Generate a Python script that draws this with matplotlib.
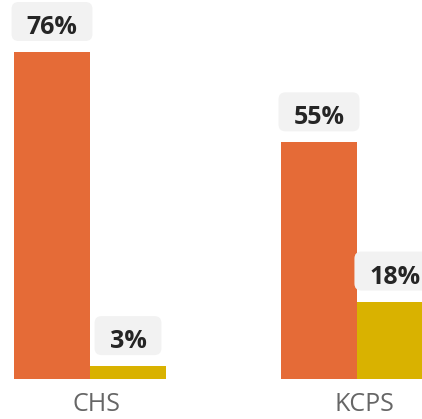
import matplotlib
matplotlib.use("Agg")
import matplotlib.pyplot as plt
import matplotlib.transforms as mtransforms
from matplotlib.patches import FancyBboxPatch
import numpy as np

# Data
categories = ["CHS", "KCPS"]
series_a = [76, 55]
series_b = [3, 18]

color_a = "#E56B37"
color_b = "#D9B200"

W, H, DPI = 422, 419, 72
fig = plt.figure(figsize=(W / DPI, H / DPI), dpi=DPI)
ax = fig.add_axes([0, 40 / H, 1, 379 / H])

x = np.arange(len(categories))
bw = 76 / 267

bars_a = ax.bar(x - bw / 2, series_a, width=bw, color=color_a)
bars_b = ax.bar(x + bw / 2, series_b, width=bw, color=color_b)

ax.set_xlim(-90 / 267, 332 / 267)
ax.set_ylim(0, 379 / (327 / 76))

font = "Open Sans"
labels = []
for bars, vals in ((bars_a, series_a), (bars_b, series_b)):
    for b, v in zip(bars, vals):
        cx = b.get_x() + b.get_width() / 2
        t = ax.annotate(f"{v}%", xy=(cx, v), xytext=(0, 18), textcoords="offset points",
                        ha="center", va="baseline", fontsize=25, fontweight="bold",
                        family=font, color="#252525", annotation_clip=False, zorder=4)
        labels.append((t, cx, v))

# Rounded label backgrounds sized from the rendered text width
renderer = fig.canvas.get_renderer()
scale = fig.dpi / 72
for t, cx, v in labels:
    tw = t.get_window_extent(renderer).width / scale
    bw_px = tw + 30
    trans = mtransforms.Affine2D().scale(scale) + mtransforms.ScaledTranslation(cx, v, ax.transData)
    box = FancyBboxPatch((-bw_px / 2, 11), bw_px, 39,
                         boxstyle="round,pad=0,rounding_size=7",
                         fc="#F2F2F2", ec="none", transform=trans,
                         clip_on=False, zorder=3)
    ax.add_patch(box)

ax.set_xticks(x)
ax.set_xticklabels(categories, fontsize=25, family=font, color="#666666")
ax.tick_params(axis="x", length=0, pad=13)
ax.set_yticks([])
offset = mtransforms.ScaledTranslation(7 / DPI, 0, fig.dpi_scale_trans)
for lbl in ax.get_xticklabels():
    lbl.set_transform(lbl.get_transform() + offset)
for s in ax.spines.values():
    s.set_visible(False)

fig.savefig("out.png", dpi=DPI)
